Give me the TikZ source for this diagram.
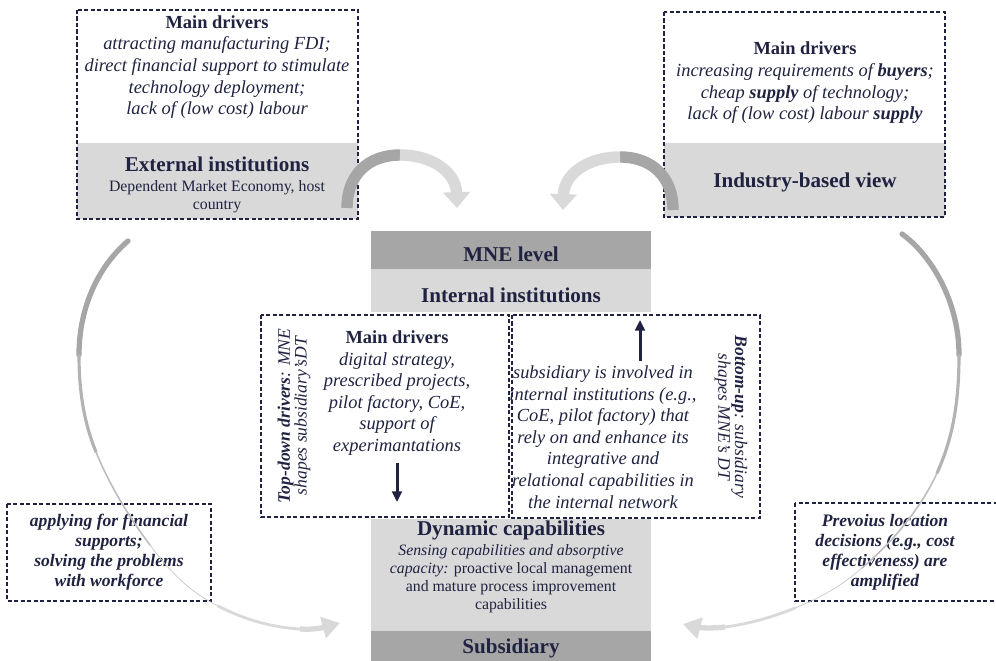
\documentclass[tikz,border=0pt]{standalone}
\usepackage{fontspec}
\setmainfont{Liberation Serif}
\usetikzlibrary{arrows.meta}
\definecolor{navy}{HTML}{1F2240}
\definecolor{dgrey}{HTML}{A6A6A6}
\definecolor{lgrey}{HTML}{D9D9D9}
\tikzset{
  dashbox/.style={draw=navy, line width=0.7pt, dash pattern=on 2.3pt off 1.4pt},
  head/.style={font=\fontsize{12}{14}\selectfont\bfseries},
  drivers/.style={align=center, font=\fontsize{10.5}{12.3}\selectfont\itshape},
  side/.style={align=center, font=\fontsize{10}{9.5}\selectfont\itshape},
  smallnote/.style={align=center, font=\fontsize{9}{10.2}\selectfont},
  outcome/.style={align=center, font=\fontsize{10}{11.3}\selectfont\bfseries\itshape},
  pointer/.style={navy, line width=1.7pt, -{Triangle[width=5.5pt,length=6pt]}},
  turn/.style={line width=6.5pt},
  sweep/.style={line cap=round},
}
\begin{document}
\begin{tikzpicture}[x=0.02cm, y=-0.02cm, every node/.append style={text=navy, inner sep=0pt}]
  \useasboundingbox (0,0) rectangle (996,661);

  \fill[lgrey] (77,143) rectangle (358,219);
  \draw[dashbox] (77,10) rectangle (358,219);
  \node[drivers] (extdrivers) at (217,67) {{\upshape\bfseries Main drivers}\\
    attracting manufacturing FDI;\\
    direct financial support to stimulate\\
    technology deployment;\\
    lack of (low cost) labour};
  \node[head] (extinst) at (217,164) {External institutions};
  \node[smallnote] (extdme) at (217,197) {Dependent Market Economy, host\\ country};

  \fill[lgrey] (664,143) rectangle (945,217);
  \draw[dashbox] (664,12) rectangle (945,217);
  \node[drivers] (inddrivers) at (805,83) {{\upshape\bfseries Main drivers}\\
    increasing requirements of \textbf{buyers};\\
    cheap \textbf{supply} of technology;\\
    lack of (low cost) labour \textbf{supply}};
  \node[head] (indview) at (805,182) {Industry-based view};

  \fill[dgrey] (371,231) rectangle (651,269);
  \fill[lgrey] (371,269) rectangle (651,312);
  \node[head] (mne) at (511,254) {MNE level};
  \node[head] (intinst) at (511,295) {Internal institutions};

  \fill[lgrey] (371,519) rectangle (651,631);
  \fill[dgrey] (371,631) rectangle (651,661);
  \node[head] (dyncap) at (511,530) {Dynamic capabilities};
  \node[smallnote] (sensing) at (511,579) {\textit{Sensing capabilities and absorptive}\\
    \textit{capacity:} proactive local management\\
    and mature process improvement\\
    capabilities};
  \node[head] (sub) at (511,648) {Subsidiary};

  \draw[dashbox] (261,315) rectangle (509,517);
  \draw[dashbox] (512,315) rectangle (760,518);
  \node[side, rotate=90] (topdown) at (294,416) {\textbf{Top-down drivers}: MNE\\ shapes subsidiary'sDT};
  \node[drivers] (mnedrivers) at (397,393) {{\upshape\bfseries Main drivers}\\
    digital strategy,\\
    prescribed projects,\\
    pilot factory, CoE,\\
    support of\\
    experimantations};
  \node[side, rotate=-90] (bottomup) at (731,417) {\textbf{Bottom-up}: subsidiary\\ shapes MNE's DT};
  \node[drivers] (involved) at (603,437) {subsidiary is involved in\\
    internal institutions (e.g.,\\
    CoE, pilot factory) that\\
    rely on and enhance its\\
    integrative and\\
    relational capabilities in\\
    the internal network};
  \coordinate (downtop) at (397,463);
  \coordinate (downend) at (397,502);
  \coordinate (upbot) at (640,361);
  \coordinate (upend) at (640,320);
  \draw[pointer] (downtop) -- (downend);
  \draw[pointer] (upbot) -- (upend);

  \draw[dashbox] (7,504) rectangle (211,601);
  \node[outcome] (financial) at (109,552) {applying for financial\\ supports;\\ solving the problems\\ with workforce};
  \draw[dashbox] (795,503) rectangle (1000,601);
  \node[outcome] (previous) at (885,552) {Prevoius location\\ decisions (e.g., cost\\ effectiveness) are\\ amplified};

  \coordinate (extturn) at (347,208);
  \coordinate (extpeak) at (400,155);
  \coordinate (mnein) at (457,208);
  \draw[turn, dgrey] (extturn) .. controls (347,175) and (368,155) .. (extpeak);
  \draw[turn, lgrey, -{Triangle[width=15pt,length=9pt]}] (extpeak) .. controls (432,155) and (456,172) .. (mnein);
  \coordinate (indturn) at (673,210);
  \coordinate (indpeak) at (620,157);
  \coordinate (mnein2) at (563,210);
  \draw[turn, dgrey] (indturn) .. controls (673,177) and (652,157) .. (indpeak);
  \draw[turn, lgrey, -{Triangle[width=15pt,length=9pt]}] (indpeak) .. controls (588,157) and (564,174) .. (mnein2);

  \coordinate (extout) at (128,241);
  \coordinate (dynleft) at (340,623);
  \draw[sweep, dgrey, line width=3pt] (extout) .. controls (100,265) and (79,305) .. (79,355);
  \draw[sweep, dgrey!75!lgrey, line width=1.8pt] (79,355) .. controls (79,395) and (85,425) .. (96,452);
  \draw[sweep, dgrey!55!lgrey, line width=0.9pt] (96,452) .. controls (107,479) and (125,512) .. (150,545);
  \draw[sweep, dgrey!35!lgrey, line width=0.4pt] (150,545) .. controls (170,572) and (190,592) .. (218,606);
  \draw[sweep, lgrey, line width=1.6pt] (218,606) .. controls (246,620) and (270,627) .. (300,629);
  \draw[lgrey, line width=3pt, -{Triangle[width=12pt,length=10pt]}] (300,629) .. controls (315,630) and (325,627) .. (dynleft);

  \coordinate (indout) at (902,234);
  \coordinate (dynright) at (683,624);
  \draw[sweep, dgrey, line width=3pt] (indout) .. controls (930,254) and (959,300) .. (959,355);
  \draw[sweep, dgrey!75!lgrey, line width=1.8pt] (959,355) .. controls (959,405) and (952,440) .. (937,473);
  \draw[sweep, dgrey!55!lgrey, line width=0.9pt] (937,473) .. controls (922,506) and (895,540) .. (862,568);
  \draw[sweep, dgrey!35!lgrey, line width=0.4pt] (862,568) .. controls (840,587) and (820,598) .. (795,608);
  \draw[sweep, lgrey, line width=1.6pt] (795,608) .. controls (770,618) and (748,624) .. (725,627);
  \draw[lgrey, line width=3pt, -{Triangle[width=12pt,length=10pt]}] (725,627) .. controls (710,629) and (695,627) .. (dynright);
\end{tikzpicture}
\end{document}
